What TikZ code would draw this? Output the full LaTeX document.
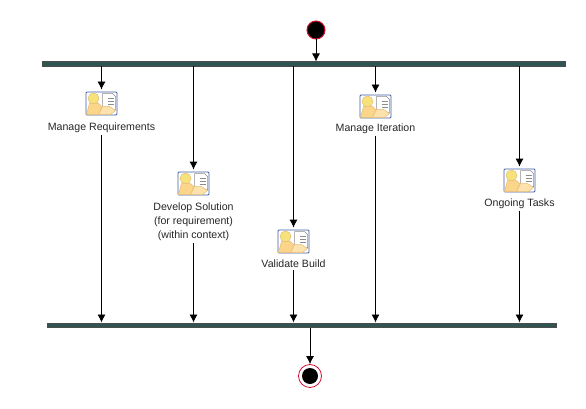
\documentclass[tikz,border=0pt]{standalone}
\usepackage{fontspec}
\setmainfont{Liberation Sans}
\usetikzlibrary{arrows.meta, positioning, calc}
\definecolor{cbar}{HTML}{2F5552}
\definecolor{cedge}{HTML}{3F5F9F}
\definecolor{cbody}{HTML}{FBD58A}
\definecolor{chead}{HTML}{F5E27A}
\definecolor{cred}{HTML}{D01030}
\tikzset{
  every picture/.style={x=1pt, y=-1pt, line width=0.8pt},
  bar/.style={draw=black!70, fill=cbar, line width=0.5pt, inner sep=0pt, minimum height=4.5pt},
  arrow/.style={-{Latex[length=8pt, width=8pt]}, draw=black, line width=0.8pt},
  iconbox/.style={draw=cedge, fill=white, line width=0.8pt, rounded corners=1pt, minimum width=31pt, minimum height=23pt, inner sep=0pt},
  label/.style={font=\fontsize{10.6}{14}\selectfont, align=center, inner sep=0pt, text=black!85},
  startdot/.style={circle, draw=cred, fill=black, line width=1pt, minimum size=18pt, inner sep=0pt},
  enddot/.style={circle, draw=cred, fill=white, line width=0.8pt, minimum size=23pt, inner sep=0pt},
  enddotin/.style={circle, fill=black, minimum size=16pt, inner sep=0pt},
  worker/.pic={
    \fill[white, draw=black!45, line width=0.5pt] (1,-10) -- (11,-10) -- (14,-7) -- (14,6) -- (1,6) -- cycle;
    \foreach \y in {-5,-2,1} \draw[black!45, line width=0.5pt] (6,\y) -- (12,\y);
    \fill[chead, draw=cbody!70!brown, line width=0.5pt] (-8,-5) circle (5.5);
    \fill[cbody, draw=cbody!70!brown, line width=0.5pt] (-15,11) -- (-12,0) -- (-3,0) -- (0,3) -- (-2,11) -- cycle;
    \fill[cbody!70!white, draw=cbody!70!brown, line width=0.5pt] (-3,11) -- (1,3) -- (8,3) -- (14,7) -- (9,11) -- cycle;
  },
}
\newcommand{\activity}[5]{
  \node[iconbox] (#1icon) at (#2,#3) {};
  \pic at (#1icon.center) {worker};
  \node[label, anchor=north] (#1) at (#2,#4) {#5};
}
\begin{document}
\begin{tikzpicture}
  \useasboundingbox (0,0) rectangle (586,409);
  % bars and end points
  \node[startdot] (start) at (316,30) {};
  \node[bar, minimum width=523pt] (fork) at (303.5,64) {};
  \node[bar, minimum width=509pt] (join) at (301.5,325) {};
  \node[enddot] (finish) at (310,376) {};
  \node[enddotin] (finishin) at (finish.center) {};
  \draw[arrow] (start) -- (start |- fork.north);
  \draw[arrow] (finish |- join.south) -- (finish);
  % activities
  \activity{requirements}{101.5}{103.5}{122}{Manage Requirements}
  \activity{solution}{193.5}{183.5}{202}{Develop Solution\\(for requirement)\\(within context)}
  \activity{build}{293.5}{241.5}{259}{Validate Build}
  \activity{iteration}{375.5}{106.5}{123}{Manage Iteration}
  \activity{ongoing}{519.5}{180.5}{198}{Ongoing Tasks}
  \foreach \a in {requirements, solution, build, iteration, ongoing} {
    \draw[arrow] (\a icon |- fork.south) -- ($(\a icon.north)+(0,-2)$);
    \draw[arrow] ($(\a.south -| \a icon)+(0,2)$) -- (\a icon |- join.north);
  }
\end{tikzpicture}
\end{document}
